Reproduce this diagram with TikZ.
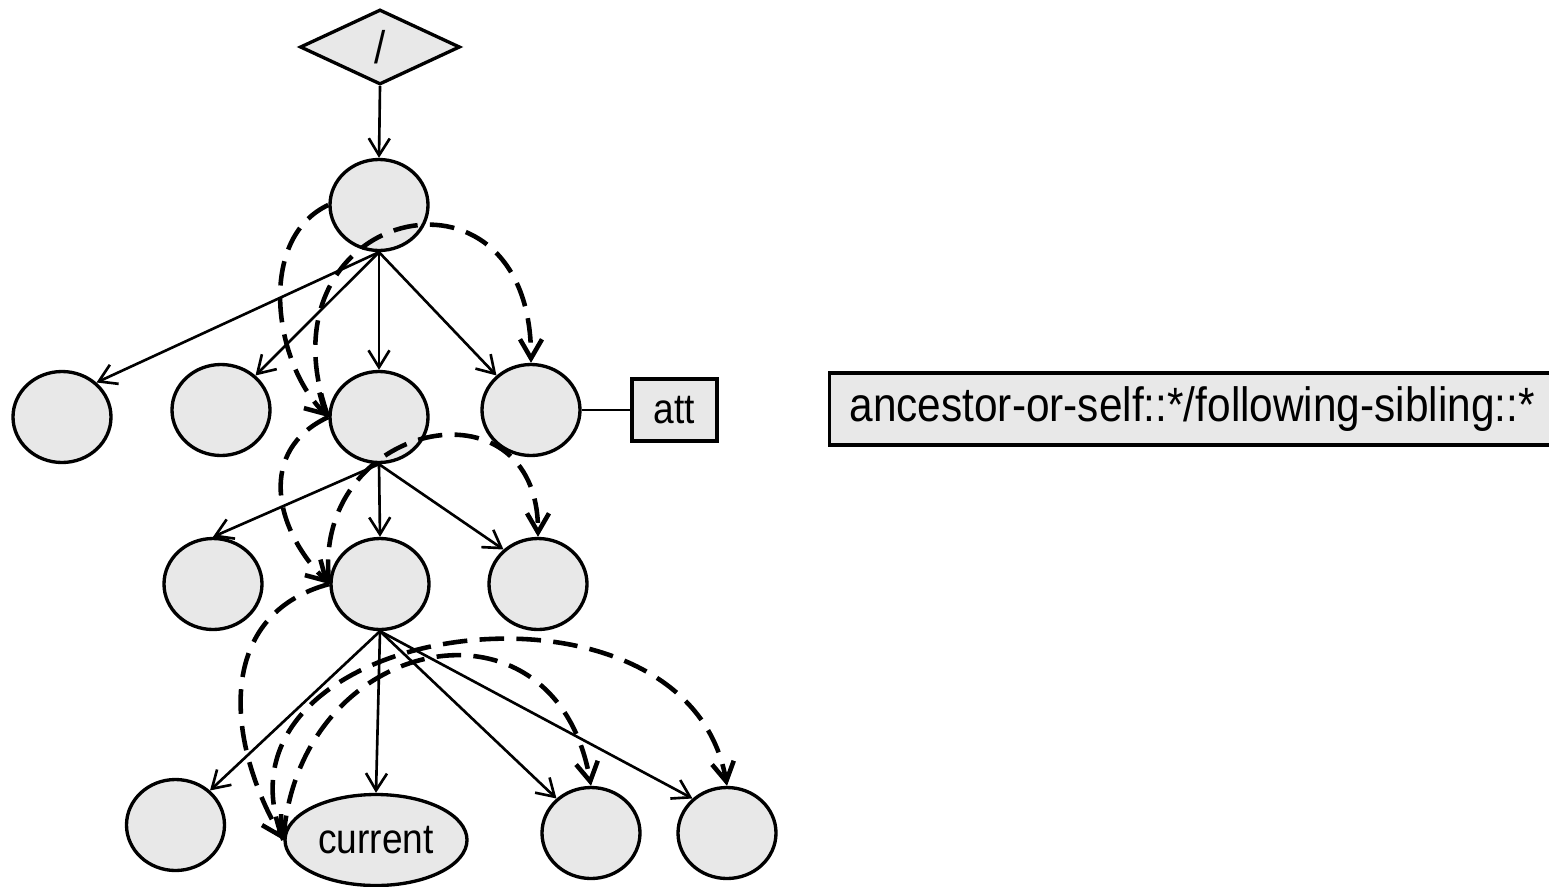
\documentclass[tikz,border=0pt]{standalone}
\usepackage{fontspec}
\setmainfont{Liberation Sans}[FakeStretch=0.88]
\usetikzlibrary{arrows.meta,positioning,shapes.geometric}
\definecolor{nodegray}{RGB}{232,232,232}
\tikzset{el/.style={ellipse, draw, line width=1.9pt, fill=nodegray, minimum width=1.96cm, minimum height=1.82cm, inner sep=0pt, font=\fontsize{24}{28}\selectfont}}
\tikzset{axis/.style={line width=2.6pt, dash pattern=on 14pt off 7pt, -{Straight Barb[length=3.8mm,width=4.4mm]}}}
\tikzset{lbl/.style={rectangle, draw, line width=1.9pt, fill=nodegray}}

\begin{document}
\begin{tikzpicture}[line width=1.5pt, >={Straight Barb[length=3.4mm,width=4.2mm]}]
\useasboundingbox (0,0) rectangle (30.98,-17.72);
\node[diamond, draw, line width=1.9pt, fill=nodegray, minimum width=3.2cm, minimum height=1.5cm, inner sep=0pt, font=\fontsize{26}{30}\selectfont] (doc) at (7.6,-0.94) {/};
\node[el] (r) at (7.58,-4.10) {};
\node[el] (a1) at (1.24,-8.34) {};
\node[el] (a2) at (4.42,-8.20) {};
\node[el] (a3) at (7.58,-8.34) {};
\node[el] (a4) at (10.62,-8.20) {};
\node[lbl, minimum width=1.7cm, minimum height=1.24cm, font=\fontsize{24}{28}\selectfont] (att) at (13.49,-8.20) {att};
\node[el] (b1) at (4.26,-11.68) {};
\node[el] (b2) at (7.60,-11.68) {};
\node[el] (b3) at (10.76,-11.68) {};
\node[el] (c1) at (3.51,-16.50) {};
\node[el, minimum width=3.64cm] (cur) at (7.52,-16.80) {current};
\node[el] (c3) at (11.82,-16.66) {};
\node[el] (c4) at (14.54,-16.66) {};
\node[lbl, anchor=west, minimum width=14.5cm, minimum height=1.44cm, font=\fontsize{27.4}{32}\selectfont] (xp) at (16.56,-8.18) {ancestor-or-self::*/following-sibling::*};

\draw[->] (doc.south) -- (r.north);
\draw[->] (r.south) -- (a1.45);
\draw[->] (r.south) -- (a2.45);
\draw[->] (r.south) -- (a3.north);
\draw[->] (r.south) -- (a4.135);
\draw (a4.east) -- (att.west);
\draw[->] (a3.south) -- (b1.north);
\draw[->] (a3.south) -- (b2.north);
\draw[->] (a3.south) -- (b3.135);
\draw[->] (b2.south) -- (c1.45);
\draw[->] (b2.south) -- (cur.north);
\draw[->] (b2.south) -- (c3.135);
\draw[->] (b2.south) -- (c4.135);

\draw[axis] (r.west) to[out=205, in=135, looseness=0.95] (a3.west);
\draw[axis] (a3.west) to[out=110, in=90, looseness=2.7] (a4.north);
\draw[axis] (a3.west) to[out=205, in=135, looseness=1.2] (b2.west);
\draw[axis] (b2.west) to[out=97, in=90, looseness=1.95] (b3.north);
\draw[axis] (b2.west) to[out=195, in=120, looseness=1.15] (cur.west);
\draw[axis] (cur.west) to[out=86, in=100, looseness=1.7] (c3.north);
\draw[axis] (cur.west) to[out=112, in=100, looseness=1.36] (c4.north);
\end{tikzpicture}
\end{document}
